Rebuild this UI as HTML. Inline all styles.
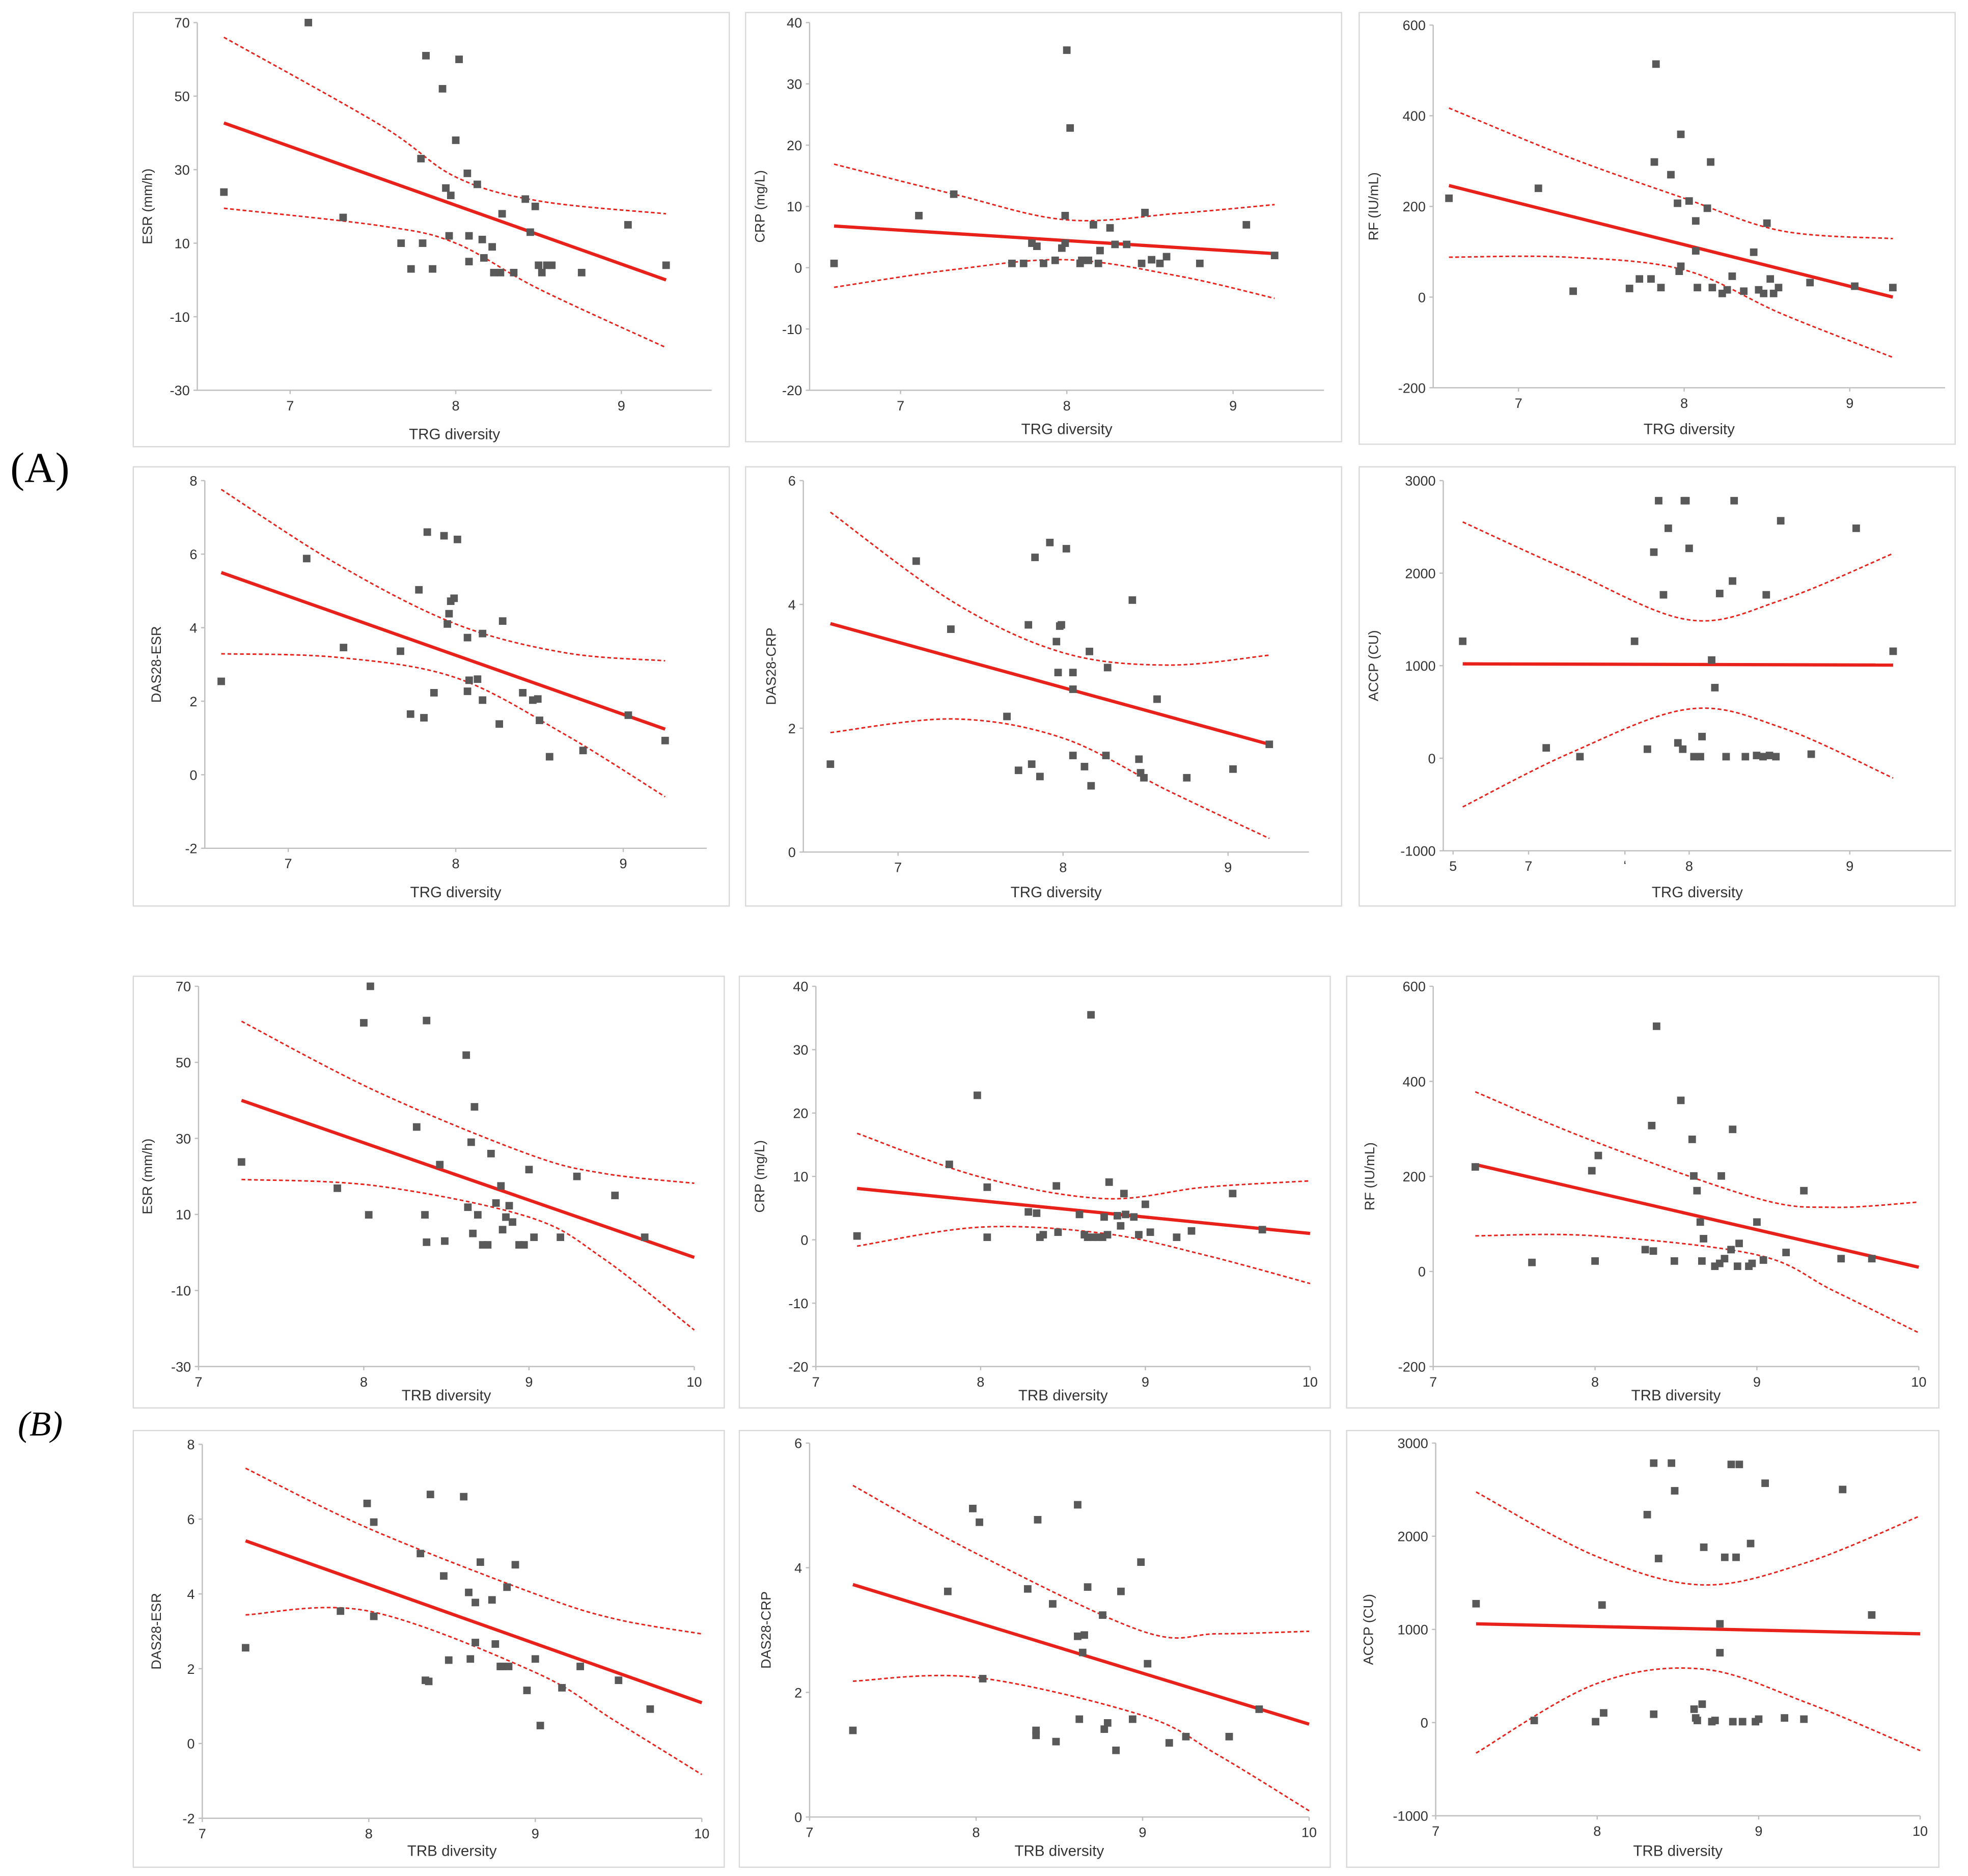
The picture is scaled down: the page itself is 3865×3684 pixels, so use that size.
<!DOCTYPE html>
<html><head><meta charset="utf-8">
<style>
html,body{margin:0;padding:0;background:#fff;}
svg{display:block;}
text{font-family:"Liberation Sans",sans-serif;fill:#333;}
</style></head>
<body>
<svg id="fig" width="3865" height="3684" viewBox="0 0 1568 1495" xmlns="http://www.w3.org/2000/svg">
<rect width="1568" height="1495" fill="#fff"/>
<text x="8" y="384" font-size="34" style="font-family:'Liberation Serif',serif;fill:#000">(A)</text>
<text x="14" y="1144" font-size="28" font-style="italic" style="font-family:'Liberation Serif',serif;fill:#000">(B)</text>
</svg>
<script>
// ---------------- DATA ----------------
const p1X=[6.60,7.11,7.32,7.67,7.73,7.79,7.80,7.82,7.86,7.92,7.94,7.97,7.96,8.00,8.02,8.07,8.08,8.08,8.13,8.16,8.17,8.22,8.23,8.27,8.28,8.35,8.42,8.45,8.48,8.50,8.55,8.52,8.58,8.76,9.04,9.27];
const p1Y=[23.9,70,17,10,3,33,10,61,3,52,25,23,12,38,60,29,12,5,26,11,6,9,2,2,18,2,22,13,20,4,4,2,4,2,15,4];
const p1Reg=[6.6,42.7,9.27,0];
const p1CiX=[6.6,7.55,8.0,8.5,9.27];
const p1CiU=[66,42,28,21.5,18];
const p1CiL=[19.5,14.7,10,-2.4,-18.4];

const p2X=[6.60,7.11,7.32,7.67,7.74,7.79,7.82,7.86,7.93,7.97,7.99,7.99,8.00,8.02,8.08,8.09,8.13,8.16,8.19,8.20,8.26,8.29,8.36,8.45,8.47,8.51,8.56,8.60,8.80,9.08,9.25];
const p2Y=[0.7,8.5,12,0.7,0.7,4,3.5,0.7,1.2,3.2,4,8.5,35.5,22.8,0.7,1.2,1.2,7,0.7,2.8,6.5,3.8,3.8,0.7,9,1.3,0.7,1.8,0.7,7,2];
const p2Reg=[6.6,6.8,9.25,2.3];
const p2CiX=[6.6,7.32,8.0,8.68,9.25];
const p2CiU=[16.9,12,7.8,8.9,10.3];
const p2CiL=[-3.2,-0.3,1.3,-1.4,-5];

const p3X=[6.58,7.12,7.33,7.67,7.73,7.80,7.82,7.83,7.86,7.92,7.96,7.97,7.98,7.98,8.03,8.07,8.07,8.08,8.14,8.16,8.17,8.23,8.26,8.29,8.36,8.42,8.45,8.48,8.50,8.52,8.54,8.57,8.76,9.03,9.26];
const p3Y=[218,240,13,19,40,40,298,514,21,270,207,57,359,68,212,168,102,21,196,298,21,8,16,46,13,99,16,8,163,40,8,21,32,24,21];
const p3Reg=[6.58,246,9.26,0];
const p3CiX=[6.58,7.30,8.0,8.59,9.26];
const p3CiU=[417,309,218,146,129];
const p3CiL=[88,88,60,-37,-133];

const p4X=[6.60,7.11,7.33,7.67,7.73,7.78,7.81,7.83,7.87,7.93,7.95,7.97,7.96,7.99,8.01,8.07,8.08,8.07,8.13,8.16,8.16,8.26,8.28,8.40,8.46,8.50,8.49,8.56,8.76,9.03,9.25];
const p4Y=[2.54,5.88,3.46,3.36,1.65,5.03,1.55,6.6,2.23,6.5,4.1,4.72,4.38,4.8,6.4,3.73,2.57,2.27,2.6,3.84,2.03,1.38,4.18,2.23,2.03,1.48,2.06,0.49,0.66,1.62,0.93];
const p4Reg=[6.6,5.5,9.25,1.24];
const p4CiX=[6.6,7.3,8.0,8.65,9.25];
const p4CiU=[7.76,5.71,4.1,3.32,3.1];
const p4CiL=[3.29,3.19,2.64,1.1,-0.6];

const p5X=[6.59,7.11,7.32,7.66,7.73,7.79,7.81,7.83,7.86,7.92,7.96,7.97,7.98,7.99,8.02,8.06,8.06,8.06,8.13,8.16,8.17,8.26,8.27,8.42,8.46,8.47,8.49,8.57,8.75,9.03,9.25];
const p5Y=[1.42,4.7,3.6,2.19,1.32,3.67,1.42,4.76,1.22,5.0,3.4,2.9,3.65,3.67,4.9,2.63,2.9,1.56,1.38,3.24,1.07,1.56,2.98,4.07,1.5,1.28,1.2,2.47,1.2,1.34,1.74];
const p5Reg=[6.59,3.69,9.25,1.74];
const p5CiX=[6.59,7.34,8.0,8.63,9.25];
const p5CiU=[5.49,4.03,3.22,3.02,3.18];
const p5CiL=[1.93,2.15,1.84,1.0,0.22];

const p6X=[6.59,7.11,7.32,7.66,7.74,7.78,7.81,7.84,7.87,7.93,7.96,7.97,7.98,8.00,8.03,8.07,8.08,8.14,8.16,8.19,8.23,8.27,8.28,8.35,8.42,8.46,8.48,8.50,8.54,8.57,8.76,9.04,9.27];
const p6Y=[1264,112,17,1264,98,2227,2783,1766,2485,166,98,2783,2783,2268,17,17,234,1061,763,1780,17,1915,2783,17,30,17,1766,30,17,2566,44,2485,1156];
const p6Reg=[6.59,1020,9.27,1007];
const p6CiX=[6.59,7.26,8.0,8.58,9.27];
const p6CiU=[2553,2024,1495,1712,2213];
const p6CiL=[-526,57,532,328,-214];

const p7X=[7.26,7.84,8.00,8.03,8.04,8.32,8.37,8.38,8.38,8.46,8.49,8.62,8.63,8.65,8.66,8.67,8.69,8.72,8.75,8.77,8.80,8.83,8.84,8.86,8.88,8.90,8.94,8.97,9.00,9.03,9.19,9.29,9.52,9.70];
const p7Y=[23.8,16.9,60.4,9.9,70,33,9.9,2.7,61,23.1,3,51.9,11.9,29,5,38.3,9.9,2,2,26,13,17.5,6,9.3,12.3,8,2,2,21.8,4,4,20,15,4];
const p7Reg=[7.26,40,10,-1.3];
const p7CiX=[7.26,8.08,9.0,9.45,10];
const p7CiU=[60.8,42.3,25.8,20.8,18.2];
const p7CiL=[19.2,17.5,9.3,-1.6,-20.4];

const p8X=[7.25,7.81,7.98,8.04,8.04,8.29,8.34,8.36,8.38,8.46,8.47,8.60,8.63,8.65,8.67,8.68,8.71,8.74,8.75,8.77,8.78,8.83,8.85,8.87,8.88,8.93,8.96,9.00,9.03,9.19,9.28,9.53,9.71];
const p8Y=[0.6,11.9,22.8,8.3,0.4,4.4,4.2,0.4,0.8,8.5,1.2,4,0.8,0.4,35.5,0.4,0.4,0.4,3.6,0.8,9.1,3.8,2.2,7.3,4,3.6,0.8,5.6,1.2,0.4,1.4,7.3,1.6];
const p8Reg=[7.25,8.1,10,1.0];
const p8CiX=[7.25,8.0,8.75,9.36,10];
const p8CiU=[16.8,9.9,6.5,8.3,9.3];
const p8CiL=[-1,2,1,-2.4,-6.9];

const p9X=[7.26,7.61,8.00,8.02,7.98,8.31,8.35,8.38,8.36,8.49,8.53,8.60,8.61,8.63,8.65,8.66,8.67,8.74,8.77,8.78,8.80,8.84,8.85,8.88,8.89,8.95,8.97,9.00,9.04,9.18,9.29,9.52,9.71];
const p9Y=[220,19,22,244,212,46,307,516,43,22,360,278,201,170,104,22,69,11,17,201,27,46,299,11,59,11,17,104,24,40,170,27,27];
const p9Reg=[7.26,225,10,9];
const p9CiX=[7.26,8.0,9.0,9.47,10];
const p9CiU=[378,273,154,135,146];
const p9CiL=[75,75,35,-40,-129];

const p10X=[7.26,7.83,7.99,8.03,8.03,8.31,8.34,8.36,8.37,8.45,8.48,8.57,8.60,8.61,8.64,8.64,8.67,8.74,8.76,8.79,8.80,8.84,8.83,8.88,8.95,9.00,9.03,9.16,9.27,9.50,9.69];
const p10Y=[2.56,3.54,6.42,5.92,3.4,5.08,1.69,1.66,6.66,4.48,2.23,6.6,4.04,2.26,2.7,3.77,4.85,3.84,2.66,2.06,2.06,2.06,4.18,4.78,1.42,2.26,0.48,1.49,2.06,1.69,0.92];
const p10Reg=[7.26,5.42,10,1.09];
const p10CiX=[7.26,8.0,9.0,9.48,10];
const p10CiU=[7.36,5.75,4.0,3.33,2.93];
const p10CiL=[3.44,3.54,1.9,0.6,-0.83];

const p11X=[7.26,7.83,7.98,8.02,8.04,8.31,8.36,8.36,8.37,8.46,8.48,8.61,8.62,8.61,8.65,8.64,8.67,8.76,8.77,8.79,8.84,8.87,8.94,8.99,9.03,9.16,9.26,9.52,9.70];
const p11Y=[1.39,3.62,4.95,4.73,2.22,3.66,1.39,1.31,4.77,3.42,1.21,5.01,1.57,2.9,2.92,2.64,3.69,3.24,1.41,1.51,1.07,3.62,1.57,4.09,2.46,1.19,1.29,1.29,1.73];
const p11Reg=[7.26,3.73,10,1.49];
const p11CiX=[7.26,8.0,9.0,9.45,10];
const p11CiU=[5.32,4.23,2.98,2.94,2.98];
const p11CiL=[2.18,2.24,1.63,1.0,0.1];

const p12X=[7.25,7.61,7.99,8.03,8.04,8.31,8.35,8.35,8.38,8.46,8.48,8.60,8.61,8.62,8.65,8.66,8.71,8.73,8.76,8.76,8.79,8.83,8.84,8.86,8.88,8.90,8.95,8.98,9.00,9.04,9.16,9.28,9.52,9.70];
const p12Y=[1276,23,10,1262,104,2232,90,2785,1761,2785,2488,144,50,23,198,1882,10,23,1060,750,1774,2771,10,1774,2771,10,1922,10,37,2569,50,37,2502,1155];
const p12Reg=[7.25,1060,10,953];
const p12CiX=[7.25,7.99,8.65,9.3,10];
const p12CiU=[2475,1788,1478,1720,2219];
const p12CiL=[-327,414,575,212,-300];

// ---------------- LAYOUT ----------------
const panels=[
 {n:'esr-trg',f:[106,10,475,346],ax:157,r:567,xr:[8,363,132],yr:[70,18,-30,311],yt:[70,50,30,10,-10,-30],xt:[7,8,9],xl:null,xtitle:'TRG diversity',xty:350,yt2:'ESR (mm/h)',ytx:121,X:p1X,Y:p1Y,R:p1Reg,CX:p1CiX,CU:p1CiU,CL:p1CiL},
 {n:'crp-trg',f:[594,10,475,342],ax:645,r:1055,xr:[8,850,132.5],yr:[40,18,-20,311],yt:[40,30,20,10,0,-10,-20],xt:[7,8,9],xl:null,xtitle:'TRG diversity',xty:346,yt2:'CRP (mg/L)',ytx:609,X:p2X,Y:p2Y,R:p2Reg,CX:p2CiX,CU:p2CiU,CL:p2CiL},
 {n:'rf-trg',f:[1083,10,475,344],ax:1142,r:1550,xr:[8,1342,132],yr:[600,20,-200,309],yt:[600,400,200,0,-200],xt:[7,8,9],xl:null,xtitle:'TRG diversity',xty:346,yt2:'RF (IU/mL)',ytx:1098,X:p3X,Y:p3Y,R:p3Reg,CX:p3CiX,CU:p3CiU,CL:p3CiL},
 {n:'das28esr-trg',f:[106,372,475,350],ax:163,r:563,xr:[8,363,133.5],yr:[8,383,-2,676],yt:[8,6,4,2,0,-2],xt:[7,8,9],xl:null,xtitle:'TRG diversity',xty:715,yt2:'DAS28-ESR',ytx:128,X:p4X,Y:p4Y,R:p4Reg,CX:p4CiX,CU:p4CiU,CL:p4CiL},
 {n:'das28crp-trg',f:[594,372,475,350],ax:640,r:1043,xr:[8,847,131.5],yr:[6,383,0,679],yt:[6,4,2,0],xt:[7,8,9],xl:null,xtitle:'TRG diversity',xty:715,yt2:'DAS28-CRP',ytx:618,X:p5X,Y:p5Y,R:p5Reg,CX:p5CiX,CU:p5CiU,CL:p5CiL},
 {n:'accp-trg',f:[1083,372,475,350],ax:1150,r:1555,xr:[8,1346,128],yr:[3000,383,-1000,678],yt:[3000,2000,1000,0,-1000],xt:[6.53,7,7.6,8,9],xl:['5','7','ʻ','8','9'],xtitle:'TRG diversity',xty:715,yt2:'ACCP (CU)',ytx:1098,X:p6X,Y:p6Y,R:p6Reg,CX:p6CiX,CU:p6CiU,CL:p6CiL},
 {n:'esr-trb',f:[106,778,471,344],ax:158,r:553,xr:[7,158,131.7],yr:[70,786,-30,1089],yt:[70,50,30,10,-10,-30],xt:[7,8,9,10],xl:null,xtitle:'TRB diversity',xty:1116,yt2:'ESR (mm/h)',ytx:121,X:p7X,Y:p7Y,R:p7Reg,CX:p7CiX,CU:p7CiU,CL:p7CiL},
 {n:'crp-trb',f:[589,778,471,344],ax:650,r:1044,xr:[7,650,131.3],yr:[40,786,-20,1089],yt:[40,30,20,10,0,-10,-20],xt:[7,8,9,10],xl:null,xtitle:'TRB diversity',xty:1116,yt2:'CRP (mg/L)',ytx:609,X:p8X,Y:p8Y,R:p8Reg,CX:p8CiX,CU:p8CiU,CL:p8CiL},
 {n:'rf-trb',f:[1073,778,472,344],ax:1142,r:1529,xr:[7,1142,129],yr:[600,786,-200,1089],yt:[600,400,200,0,-200],xt:[7,8,9,10],xl:null,xtitle:'TRB diversity',xty:1116,yt2:'RF (IU/mL)',ytx:1095,X:p9X,Y:p9Y,R:p9Reg,CX:p9CiX,CU:p9CiU,CL:p9CiL},
 {n:'das28esr-trb',f:[106,1140,471,348],ax:161,r:559,xr:[7,161,132.7],yr:[8,1151,-2,1449],yt:[8,6,4,2,0,-2],xt:[7,8,9,10],xl:null,xtitle:'TRB diversity',xty:1479,yt2:'DAS28-ESR',ytx:128,X:p10X,Y:p10Y,R:p10Reg,CX:p10CiX,CU:p10CiU,CL:p10CiL},
 {n:'das28crp-trb',f:[589,1140,471,348],ax:645,r:1043,xr:[7,645,132.7],yr:[6,1150,0,1448],yt:[6,4,2,0],xt:[7,8,9,10],xl:null,xtitle:'TRB diversity',xty:1479,yt2:'DAS28-CRP',ytx:614,X:p11X,Y:p11Y,R:p11Reg,CX:p11CiX,CU:p11CiU,CL:p11CiL},
 {n:'accp-trb',f:[1073,1140,472,348],ax:1144,r:1530,xr:[7,1144,128.7],yr:[3000,1150,-1000,1447],yt:[3000,2000,1000,0,-1000],xt:[7,8,9,10],xl:null,xtitle:'TRB diversity',xty:1479,yt2:'ACCP (CU)',ytx:1094,X:p12X,Y:p12Y,R:p12Reg,CX:p12CiX,CU:p12CiU,CL:p12CiL}
];

const NS='http://www.w3.org/2000/svg';
const svg=document.getElementById('fig');
function mk(tag,attrs,parent){const e=document.createElementNS(NS,tag);for(const k in attrs)e.setAttribute(k,attrs[k]);parent.appendChild(e);return e;}
function smooth(pts){
  let d='M'+pts[0][0]+','+pts[0][1];
  for(let i=0;i<pts.length-1;i++){
    const p0=pts[Math.max(0,i-1)],p1=pts[i],p2=pts[i+1],p3=pts[Math.min(pts.length-1,i+2)];
    const c1x=p1[0]+(p2[0]-p0[0])/6,c1y=p1[1]+(p2[1]-p0[1])/6;
    const c2x=p2[0]-(p3[0]-p1[0])/6,c2y=p2[1]-(p3[1]-p1[1])/6;
    d+=' C'+c1x+','+c1y+' '+c2x+','+c2y+' '+p2[0]+','+p2[1];
  }
  return d;
}

panels.forEach(p=>{
  const g=mk('g',{},svg);
  
  
  const xs=v=>p.xr[1]+(v-p.xr[0])*p.xr[2];
  const ys=v=>p.yr[1]+(p.yr[0]-v)*(p.yr[3]-p.yr[1])/(p.yr[0]-p.yr[2]);
  const fr=mk('rect',{x:p.f[0],y:p.f[1],width:p.f[2],height:p.f[3],fill:'#fff',stroke:'#d9d9d9','stroke-width':1},g);
  
  
  const yb=p.yr[3];
  const ya=mk('line',{x1:p.ax,y1:p.yr[1],x2:p.ax,y2:yb,stroke:'#bfbfbf','stroke-width':1},g);
  
  
  const xa=mk('line',{x1:p.ax,y1:yb,x2:p.r,y2:yb,stroke:'#bfbfbf','stroke-width':1},g);
  
  
  p.yt.forEach(v=>{
    const t=mk('text',{x:p.ax-6,y:ys(v)+4,'font-size':11,'text-anchor':'end'},g);
    t.textContent=v;
    
    
    mk('line',{x1:p.ax-3,y1:ys(v),x2:p.ax,y2:ys(v),stroke:'#bfbfbf'},g);
  });
  p.xt.forEach((v,i)=>{
    const t=mk('text',{x:xs(v),y:yb+16,'font-size':11,'text-anchor':'middle'},g);
    t.textContent=p.xl?p.xl[i]:v;
    
    
    mk('line',{x1:xs(v),y1:yb,x2:xs(v),y2:yb+3,stroke:'#bfbfbf'},g);
  });
  const cx=(p.ax+p.r)/2;
  const xtl=mk('text',{x:cx,y:p.xty,'font-size':12,'text-anchor':'middle'},g);
  xtl.textContent=p.xtitle;
  
  
  const cy=(p.yr[1]+yb)/2;
  const ytl=mk('text',{x:p.ytx,y:cy,'font-size':11,'text-anchor':'middle',transform:'rotate(-90 '+p.ytx+' '+cy+')'},g);
  ytl.textContent=p.yt2;
  
  
  const up=mk('path',{d:smooth(p.CX.map((x,i)=>[xs(x),ys(p.CU[i])])),fill:'none',stroke:'#e8221b','stroke-width':1.2,'stroke-dasharray':'3,2'},g);
  
  
  const lo=mk('path',{d:smooth(p.CX.map((x,i)=>[xs(x),ys(p.CL[i])])),fill:'none',stroke:'#e8221b','stroke-width':1.2,'stroke-dasharray':'3,2'},g);
  
  
  const rl=mk('line',{x1:xs(p.R[0]),y1:ys(p.R[1]),x2:xs(p.R[2]),y2:ys(p.R[3]),stroke:'#e8221b','stroke-width':2.6},g);
  
  
  p.X.forEach((x,i)=>{
    const m=mk('rect',{x:xs(x)-3,y:ys(p.Y[i])-3,width:6,height:6,fill:'#595959'},g);
    
    
  });
});
</script>
</body></html>
